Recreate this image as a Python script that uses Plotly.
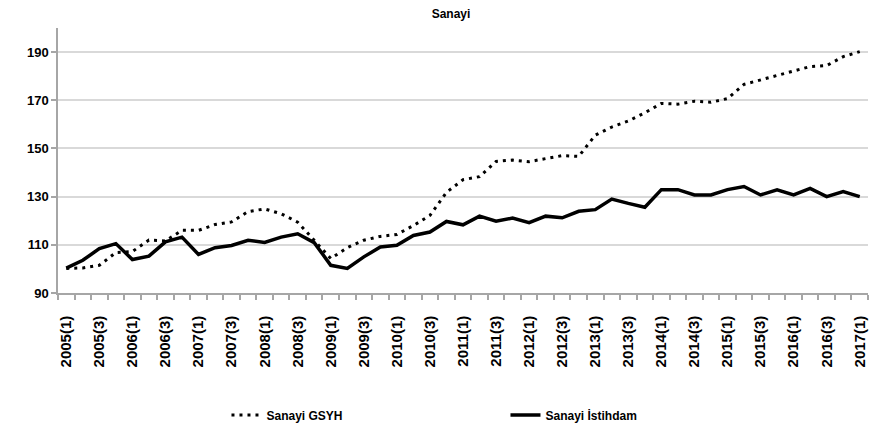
import plotly.graph_objects as go

categories = [f"{y}({q})" for y in range(2005, 2017) for q in (1, 2, 3, 4)] + ["2017(1)"]

gsyh = [100.2, 100.4, 101.5, 106.8, 107.2, 112.0, 111.6, 116.0, 116.0, 118.4, 119.5, 123.8,
        124.9, 122.9, 119.4, 111.9, 104.3, 108.8, 111.9, 113.5, 114.3, 118.0, 122.2, 131.8,
        137.0, 138.3, 144.6, 145.2, 144.5, 145.8, 147.0, 146.7, 155.5, 158.9, 161.4, 164.8,
        168.7, 168.4, 169.6, 169.2, 170.7, 176.6, 178.5, 180.3, 182.4, 184.0, 184.4, 188.1,
        190.2]

istihdam = [100.3, 103.6, 108.4, 110.5, 103.9, 105.3, 111.2, 113.2, 106.0, 108.8, 109.7, 111.9,
            111.0, 113.2, 114.6, 110.9, 101.5, 100.2, 105.0, 109.1, 109.8, 113.9, 115.3, 119.7,
            118.3, 121.9, 119.8, 121.1, 119.2, 121.9, 121.2, 123.9, 124.6, 129.0, 127.2, 125.6,
            132.9, 132.9, 130.7, 130.7, 132.9, 134.2, 130.7, 132.8, 130.7, 133.4, 130.0, 132.1,
            130.0]

series_names = ["Sanayi GSYH", "Sanayi İstihdam"]
title_text = "Sanayi"

x = list(range(len(categories)))
tick_idx = x[::2]
tick_text = categories[::2]

FONT = "Liberation Sans, Arial, sans-serif"

# the page body adds an 8px margin; figure is sized/offset to compensate
W, H = 886, 423

fig = go.Figure()
fig.add_trace(go.Scatter(
    x=x, y=gsyh, mode="lines", name=series_names[0],
    line=dict(color="#000000", width=3, dash="3px,5px"),
))
fig.add_trace(go.Scatter(
    x=x, y=istihdam, mode="lines", name=series_names[1],
    line=dict(color="#000000", width=3.5),
))

fig.update_layout(
    width=W, height=H,
    margin=dict(l=50, r=26, t=20, b=138),
    paper_bgcolor="white", plot_bgcolor="white",
    font=dict(family=FONT, color="#000000"),
    title=dict(text="<b>" + title_text + "</b>", x=0.5, xanchor="center",
               y=1 - 2 / H, yanchor="top", pad=dict(t=0, b=0),
               font=dict(size=12, family=FONT)),
    showlegend=True,
    legend=dict(orientation="h", x=0.208, xanchor="left",
                yref="container", y=(H - 407) / H, yanchor="middle",
                font=dict(size=12, family=FONT, weight="bold"),
                entrywidth=234, entrywidthmode="pixels",
                bgcolor="rgba(0,0,0,0)"),
)

fig.update_xaxes(
    range=[-0.5, len(categories) - 0.5],
    tickmode="array", tickvals=tick_idx, ticktext=["<b>" + t + "</b>" for t in tick_text],
    tickangle=-90, tickfont=dict(size=15, family=FONT),
    ticks="outside", ticklen=15, tickcolor="rgba(0,0,0,0)",
    showgrid=False, zeroline=False,
    showline=True, linecolor="#a6a6a6", linewidth=1.5,
    minor=dict(tick0=-0.5, dtick=1, ticks="outside", ticklen=5,
               tickcolor="#a6a6a6", tickwidth=1.5, showgrid=False),
)
fig.update_yaxes(
    range=[90, 200], tick0=90, dtick=20,
    tickfont=dict(size=13, family=FONT, weight="bold"),
    ticks="outside", ticklen=5, tickcolor="#a6a6a6", tickwidth=1.5,
    showgrid=True, gridcolor="#d9d9d9", gridwidth=1.5,
    zeroline=False, showline=True, linecolor="#a6a6a6", linewidth=1.5,
)

fig.write_html("out.html")
